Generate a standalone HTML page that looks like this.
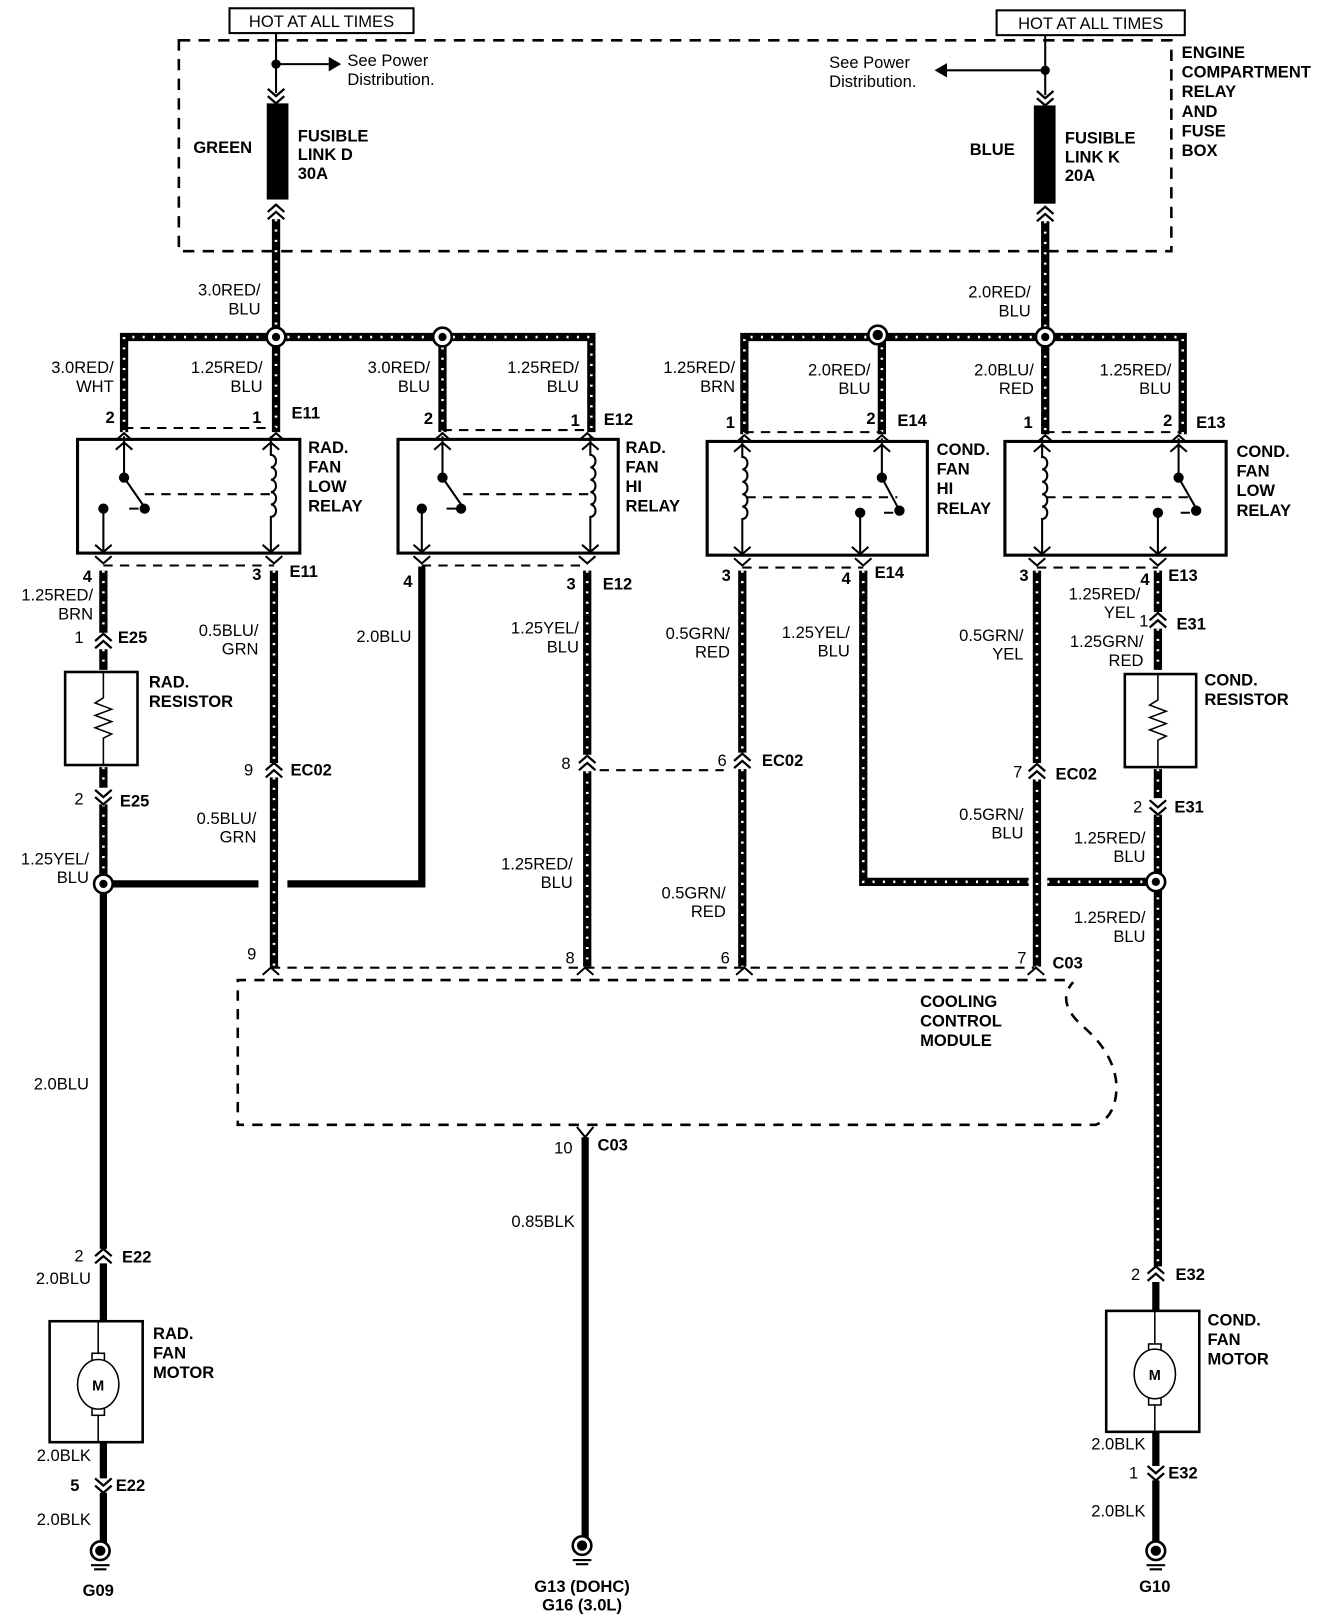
<!DOCTYPE html>
<html><head><meta charset="utf-8"><style>
html,body{margin:0;padding:0;background:#fff;}
svg{display:block;}
text{font-family:"Liberation Sans",sans-serif;font-size:16px;font-weight:bold;fill:#000;}
.n{font-weight:normal;}
</style></head><body>
<svg width="1344" height="1620" viewBox="0 0 1300 1567" preserveAspectRatio="none" xmlns="http://www.w3.org/2000/svg">
<defs>
<g id="cu"><path d="M-8 7 L0 0 L8 7 M-8 14 L0 7 L8 14" fill="none" stroke="#000" stroke-width="2.2"/></g>
<g id="cd"><path d="M-8 -7 L0 0 L8 -7 M-8 -14 L0 -7 L8 -14" fill="none" stroke="#000" stroke-width="2.2"/></g>
<g id="pu"><path d="M-8 7 L0 0 L8 7" fill="none" stroke="#000" stroke-width="2"/></g>
<g id="pd"><path d="M-8 -7 L0 0 L8 -7" fill="none" stroke="#000" stroke-width="2"/></g>
</defs>
<rect width="1300" height="1567" fill="#fff"/>

<rect x="222" y="8" width="178" height="24" fill="none" stroke="#000" stroke-width="2"/>
<text x="311" y="26" text-anchor="middle" class="n" style="font-size:16px">HOT AT ALL TIMES</text>
<rect x="964" y="10" width="182" height="24" fill="none" stroke="#000" stroke-width="2"/>
<text x="1055" y="28" text-anchor="middle" class="n" style="font-size:16px">HOT AT ALL TIMES</text>

<rect x="173" y="39" width="960" height="204" fill="none" stroke="#000" stroke-width="2.5" stroke-dasharray="11 8"/>
<text x="1143" y="56">ENGINE</text><text x="1143" y="75">COMPARTMENT</text><text x="1143" y="94">RELAY</text><text x="1143" y="113">AND</text><text x="1143" y="132">FUSE</text><text x="1143" y="151">BOX</text>

<g stroke="#000" fill="none" stroke-width="2">
<path d="M267 32 V90"/><path d="M267 62 H318"/>
<path d="M1011 34 V92"/><path d="M1011 68 H916"/>
</g>
<path d="M318 55 L330 62 L318 69Z"/><path d="M916 61 L904 68 L916 75Z"/>
<circle cx="267" cy="62" r="4.5"/><circle cx="1011" cy="68" r="4.5"/>
<use href="#cd" x="267" y="100"/><use href="#cd" x="1011" y="102"/>
<rect x="258" y="100" width="21" height="93"/>
<rect x="1000" y="102" width="21" height="95"/>
<use href="#cu" x="267" y="198"/><use href="#cu" x="1011" y="200"/>
<text x="336" y="64" class="n">See Power</text><text x="336" y="82" class="n">Distribution.</text>
<text x="802" y="66" class="n">See Power</text><text x="802" y="84" class="n">Distribution.</text>
<text x="187" y="148">GREEN</text>
<text x="288" y="137">FUSIBLE</text><text x="288" y="155">LINK D</text><text x="288" y="173">30A</text>
<text x="938" y="150">BLUE</text>
<text x="1030" y="139">FUSIBLE</text><text x="1030" y="157">LINK K</text><text x="1030" y="175">20A</text>

<g fill="none" stroke-linejoin="miter">
<g stroke="#000" stroke-width="8">
<path d="M267 212 V418"/>
<path d="M120 418 V326 H572 V418"/>
<path d="M428 326 V418"/>
<path d="M1011 214 V420"/>
<path d="M720 420 V326 H1144 V420"/>
<path d="M853 326 V420"/>
<path d="M100 552 V612 M100 628 V648 M100 742 V762 M100 778 V855"/>
<path d="M265 552 V738 M265 752 V935"/>
<path d="M568 552 V730 M568 746 V935"/>
<path d="M718 552 V728 M718 744 V935"/>
<path d="M835 552 V853 H995 M1013 853 H1118"/>
<path d="M1003 552 V738 M1003 754 V935"/>
<path d="M1120 552 V592 M1120 608 V648 M1120 744 V772 M1120 788 V1225"/>
</g>
<g stroke="#fff" stroke-width="2.5" stroke-dasharray="2 8">
<path d="M267 212 V418"/>
<path d="M120 418 V326 H572 V418"/>
<path d="M428 326 V418"/>
<path d="M1011 214 V420"/>
<path d="M720 420 V326 H1144 V420"/>
<path d="M853 326 V420"/>
<path d="M100 552 V612 M100 628 V648 M100 742 V762 M100 778 V855"/>
<path d="M265 552 V738 M265 752 V935"/>
<path d="M568 552 V730 M568 746 V935"/>
<path d="M718 552 V728 M718 744 V935"/>
<path d="M835 552 V853 H995 M1013 853 H1118"/>
<path d="M1003 552 V738 M1003 754 V935"/>
<path d="M1120 552 V592 M1120 608 V648 M1120 744 V772 M1120 788 V1225"/>
</g>
<g stroke="#000" stroke-width="7">
<path d="M408 548 V855 H278"/>
<path d="M100 855 H250"/>
<path d="M100 855 V1208 M100 1222 V1278 M100 1395 V1430 M100 1444 V1492"/>
<path d="M566 1100 V1490"/>
<path d="M1118 1240 V1268 M1118 1385 V1418 M1118 1432 V1492"/>
</g>
</g>
<g fill="#fff" stroke="#000" stroke-width="2.5">
<circle cx="267" cy="326" r="9"/><circle cx="428" cy="326" r="9"/>
<circle cx="849" cy="324" r="9"/><circle cx="1011" cy="326" r="9"/>
<circle cx="100" cy="855" r="9"/><circle cx="1118" cy="853" r="9"/>
</g>
<circle cx="267" cy="326" r="4"/><circle cx="428" cy="326" r="4"/><circle cx="849" cy="324" r="5"/><circle cx="1011" cy="326" r="4"/><circle cx="100" cy="855" r="4"/><circle cx="1118" cy="853" r="4"/>

<g text-anchor="end" class="n">
<text x="252" y="286" class="n">3.0RED/</text><text x="252" y="304" class="n">BLU</text>
<text x="997" y="288" class="n">2.0RED/</text><text x="997" y="306" class="n">BLU</text>
<text x="110" y="361" class="n">3.0RED/</text><text x="110" y="379" class="n">WHT</text>
<text x="254" y="361" class="n">1.25RED/</text><text x="254" y="379" class="n">BLU</text>
<text x="416" y="361" class="n">3.0RED/</text><text x="416" y="379" class="n">BLU</text>
<text x="560" y="361" class="n">1.25RED/</text><text x="560" y="379" class="n">BLU</text>
<text x="711" y="361" class="n">1.25RED/</text><text x="711" y="379" class="n">BRN</text>
<text x="842" y="363" class="n">2.0RED/</text><text x="842" y="381" class="n">BLU</text>
<text x="1000" y="363" class="n">2.0BLU/</text><text x="1000" y="381" class="n">RED</text>
<text x="1133" y="363" class="n">1.25RED/</text><text x="1133" y="381" class="n">BLU</text>
</g>

<g stroke="#000" stroke-width="2" fill="none" stroke-dasharray="9 7">
<path d="M120 414 H267"/><path d="M428 416 H568"/><path d="M720 418 H853"/><path d="M1011 418 H1140"/>
<path d="M100 547 H265"/><path d="M408 547 H568"/><path d="M718 549 H835"/><path d="M1003 549 H1120"/>
</g>
<g fill="none" stroke="#000" stroke-width="3">
<rect x="75" y="425" width="215" height="110"/>
<rect x="385" y="425" width="213" height="110"/>
<rect x="684" y="427" width="213" height="110"/>
<rect x="972" y="427" width="214" height="110"/>
</g>
<g fill="none" stroke="#000" stroke-width="2">
<path d="M120 422 V462 L138 488 M100 492 V535 M262 422 V440 a5 6 0 0 1 0 12 a5 6 0 0 1 0 12 a5 6 0 0 1 0 12 a5 6 0 0 1 0 12 a5 6 0 0 1 0 12 V535"/>
<path d="M140 478 H262 M125 492 H134" stroke-dasharray="9 7"/>
<path d="M428 422 V462 L446 488 M408 492 V535 M571 422 V440 a5 6 0 0 1 0 12 a5 6 0 0 1 0 12 a5 6 0 0 1 0 12 a5 6 0 0 1 0 12 a5 6 0 0 1 0 12 V535"/>
<path d="M448 478 H571 M432 492 H442" stroke-dasharray="9 7"/>
<path d="M853 424 V462 L868 490 M832 496 V537 M718 424 V442 a5 6 0 0 1 0 12 a5 6 0 0 1 0 12 a5 6 0 0 1 0 12 a5 6 0 0 1 0 12 a5 6 0 0 1 0 12 V537"/>
<path d="M722 481 H868 M855 496 H864" stroke-dasharray="9 7"/>
<path d="M1140 424 V462 L1156 490 M1120 496 V537 M1008 424 V442 a5 6 0 0 1 0 12 a5 6 0 0 1 0 12 a5 6 0 0 1 0 12 a5 6 0 0 1 0 12 a5 6 0 0 1 0 12 V537"/>
<path d="M1012 481 H1156 M1142 496 H1152" stroke-dasharray="9 7"/>
</g>
<g>
<circle cx="120" cy="462" r="5"/><circle cx="140" cy="492" r="5"/><circle cx="100" cy="492" r="5"/>
<circle cx="428" cy="462" r="5"/><circle cx="446" cy="492" r="5"/><circle cx="408" cy="492" r="5"/>
<circle cx="853" cy="462" r="5"/><circle cx="870" cy="494" r="5"/><circle cx="832" cy="496" r="5"/>
<circle cx="1140" cy="462" r="5"/><circle cx="1157" cy="494" r="5"/><circle cx="1120" cy="496" r="5"/>
</g>
<g>
<use href="#pu" x="120" y="419"/><use href="#pu" x="120" y="428"/><use href="#pu" x="267" y="419"/><use href="#pu" x="262" y="428"/>
<use href="#pd" x="100" y="545"/><use href="#pd" x="100" y="534"/><use href="#pd" x="265" y="545"/><use href="#pd" x="262" y="534"/>
<use href="#pu" x="428" y="419"/><use href="#pu" x="428" y="428"/><use href="#pu" x="568" y="419"/><use href="#pu" x="571" y="428"/>
<use href="#pd" x="408" y="545"/><use href="#pd" x="408" y="534"/><use href="#pd" x="568" y="545"/><use href="#pd" x="571" y="534"/>
<use href="#pu" x="720" y="421"/><use href="#pu" x="718" y="430"/><use href="#pu" x="853" y="421"/><use href="#pu" x="853" y="430"/>
<use href="#pd" x="718" y="547"/><use href="#pd" x="718" y="536"/><use href="#pd" x="835" y="547"/><use href="#pd" x="832" y="536"/>
<use href="#pu" x="1011" y="421"/><use href="#pu" x="1008" y="430"/><use href="#pu" x="1140" y="421"/><use href="#pu" x="1140" y="430"/>
<use href="#pd" x="1003" y="547"/><use href="#pd" x="1008" y="536"/><use href="#pd" x="1120" y="547"/><use href="#pd" x="1120" y="536"/>
</g>
<g>
<text x="102" y="409">2</text><text x="244" y="409">1</text><text x="282" y="405">E11</text>
<text x="410" y="410">2</text><text x="552" y="412">1</text><text x="584" y="411">E12</text>
<text x="702" y="414">1</text><text x="838" y="410">2</text><text x="868" y="412">E14</text>
<text x="990" y="414">1</text><text x="1125" y="412">2</text><text x="1157" y="414">E13</text>
<text x="80" y="563">4</text><text x="244" y="561">3</text><text x="280" y="558">E11</text>
<text x="390" y="568">4</text><text x="548" y="570">3</text><text x="583" y="570">E12</text>
<text x="698" y="562">3</text><text x="814" y="565">4</text><text x="846" y="559">E14</text>
<text x="986" y="562">3</text><text x="1103" y="566">4</text><text x="1130" y="562">E13</text>
</g>
<text x="298" y="438">RAD.</text><text x="298" y="457">FAN</text><text x="298" y="476">LOW</text><text x="298" y="495">RELAY</text>
<text x="605" y="438">RAD.</text><text x="605" y="457">FAN</text><text x="605" y="476">HI</text><text x="605" y="495">RELAY</text>
<text x="906" y="440">COND.</text><text x="906" y="459">FAN</text><text x="906" y="478">HI</text><text x="906" y="497">RELAY</text>
<text x="1196" y="442">COND.</text><text x="1196" y="461">FAN</text><text x="1196" y="480">LOW</text><text x="1196" y="499">RELAY</text>

<g text-anchor="end">
<text x="90" y="581" class="n">1.25RED/</text><text x="90" y="599" class="n">BRN</text>
<text x="250" y="615" class="n">0.5BLU/</text><text x="250" y="633" class="n">GRN</text>
<text x="398" y="621" class="n">2.0BLU</text>
<text x="560" y="613" class="n">1.25YEL/</text><text x="560" y="631" class="n">BLU</text>
<text x="706" y="618" class="n">0.5GRN/</text><text x="706" y="636" class="n">RED</text>
<text x="822" y="617" class="n">1.25YEL/</text><text x="822" y="635" class="n">BLU</text>
<text x="990" y="620" class="n">0.5GRN/</text><text x="990" y="638" class="n">YEL</text>
<text x="1103" y="580" class="n">1.25RED/</text><text x="1098" y="598" class="n">YEL</text>
<text x="1106" y="626" class="n">1.25GRN/</text><text x="1106" y="644" class="n">RED</text>
<text x="248" y="797" class="n">0.5BLU/</text><text x="248" y="815" class="n">GRN</text>
<text x="990" y="793" class="n">0.5GRN/</text><text x="990" y="811" class="n">BLU</text>
<text x="1108" y="816" class="n">1.25RED/</text><text x="1108" y="834" class="n">BLU</text>
<text x="86" y="836" class="n">1.25YEL/</text><text x="86" y="854" class="n">BLU</text>
<text x="554" y="841" class="n">1.25RED/</text><text x="554" y="859" class="n">BLU</text>
<text x="702" y="869" class="n">0.5GRN/</text><text x="702" y="887" class="n">RED</text>
<text x="1108" y="893" class="n">1.25RED/</text><text x="1108" y="911" class="n">BLU</text>
<text x="86" y="1054" class="n">2.0BLU</text>
<text x="556" y="1187" class="n">0.85BLK</text>
<text x="88" y="1242" class="n">2.0BLU</text>
<text x="88" y="1413" class="n">2.0BLK</text>
<text x="88" y="1475" class="n">2.0BLK</text>
<text x="1108" y="1402" class="n">2.0BLK</text>
<text x="1108" y="1467" class="n">2.0BLK</text>
</g>

<use href="#cu" x="100" y="613"/><text x="72" y="622" class="n">1</text><text x="114" y="622">E25</text>
<use href="#cd" x="100" y="778"/><text x="72" y="778" class="n">2</text><text x="116" y="780">E25</text>
<use href="#cu" x="265" y="738"/><text x="236" y="750" class="n">9</text><text x="281" y="750">EC02</text>
<use href="#cu" x="568" y="731"/><text x="543" y="744" class="n">8</text>
<use href="#cu" x="718" y="729"/><text x="694" y="741" class="n">6</text><text x="737" y="741">EC02</text>
<use href="#cu" x="1003" y="739"/><text x="980" y="752" class="n">7</text><text x="1021" y="754">EC02</text>
<path d="M580 745 H700" stroke="#000" stroke-width="2" stroke-dasharray="9 7"/>
<use href="#cu" x="1120" y="593"/><text x="1102" y="606" class="n">1</text><text x="1138" y="609">E31</text>
<use href="#cd" x="1120" y="788"/><text x="1096" y="786" class="n">2</text><text x="1136" y="786">E31</text>
<use href="#cu" x="100" y="1208"/><text x="72" y="1220" class="n">2</text><text x="118" y="1221">E22</text>
<use href="#cd" x="100" y="1444"/><text x="68" y="1442">5</text><text x="112" y="1442">E22</text>
<use href="#cu" x="1118" y="1225"/><text x="1094" y="1238" class="n">2</text><text x="1137" y="1238">E32</text>
<use href="#cd" x="1118" y="1432"/><text x="1092" y="1430" class="n">1</text><text x="1130" y="1430">E32</text>

<g fill="none" stroke="#000" stroke-width="2.5">
<rect x="63" y="650" width="70" height="90"/>
<rect x="1088" y="652" width="69" height="90"/>
</g>
<g fill="none" stroke="#000" stroke-width="1.5">
<path d="M100 650 V675 L92 680 L108 686 L92 692 L108 698 L92 704 L108 710 L100 714 V740"/>
<path d="M1120 652 V677 L1112 682 L1128 688 L1112 694 L1128 700 L1112 706 L1128 712 L1120 716 V742"/>
</g>
<text x="144" y="665">RAD.</text><text x="144" y="684">RESISTOR</text>
<text x="1165" y="663">COND.</text><text x="1165" y="682">RESISTOR</text>

<path d="M262 936 H1000" stroke="#000" stroke-width="2" stroke-dasharray="9 7"/>
<path d="M1030 948 H230 V1088 H1060 Q1080 1080 1080 1050 Q1078 1020 1050 995 Q1020 970 1038 950" fill="none" stroke="#000" stroke-width="2.5" stroke-dasharray="10 8"/>
<use href="#pu" x="262" y="936"/><use href="#pu" x="566" y="936"/><use href="#pu" x="720" y="936"/><use href="#pu" x="1002" y="936"/>
<text x="239" y="928" class="n">9</text><text x="547" y="932" class="n">8</text><text x="697" y="932" class="n">6</text><text x="984" y="932" class="n">7</text><text x="1018" y="937">C03</text>
<text x="890" y="974">COOLING</text><text x="890" y="993">CONTROL</text><text x="890" y="1012">MODULE</text>
<path d="M558 1090 L566 1100 L574 1090" fill="none" stroke="#000" stroke-width="2"/>
<text x="536" y="1116" class="n">10</text><text x="578" y="1113">C03</text>

<g fill="none" stroke="#000" stroke-width="2.5">
<rect x="48" y="1278" width="90" height="117"/>
<rect x="1070" y="1268" width="90" height="117"/>
</g>
<g stroke="#000" stroke-width="1.5" fill="#fff">
<path d="M95 1278 V1395 M1117 1268 V1385"/>
<rect x="89" y="1309" width="12" height="8"/><rect x="89" y="1361" width="12" height="8"/>
<rect x="1111" y="1300" width="12" height="8"/><rect x="1111" y="1351" width="12" height="8"/>
<ellipse cx="95" cy="1339" rx="20" ry="24"/>
<ellipse cx="1117" cy="1329" rx="20" ry="24"/>
</g>
<text x="95" y="1345" text-anchor="middle" style="font-size:14px">M</text>
<text x="1117" y="1335" text-anchor="middle" style="font-size:14px">M</text>
<text x="148" y="1295">RAD.</text><text x="148" y="1314">FAN</text><text x="148" y="1333">MOTOR</text>
<text x="1168" y="1282">COND.</text><text x="1168" y="1301">FAN</text><text x="1168" y="1320">MOTOR</text>

<g stroke="#000" stroke-width="2.5" fill="#fff">
<circle cx="97" cy="1500" r="9"/><circle cx="563" cy="1495" r="9"/><circle cx="1118" cy="1500" r="9"/>
</g>
<circle cx="97" cy="1500" r="5"/><circle cx="563" cy="1495" r="5"/><circle cx="1118" cy="1500" r="5"/>
<g stroke="#000" stroke-width="2">
<path d="M88 1514 H106 M91 1518 H103"/><path d="M554 1509 H572 M557 1513 H569"/><path d="M1109 1514 H1127 M1112 1518 H1124"/>
</g>
<text x="95" y="1544" text-anchor="middle">G09</text>
<text x="563" y="1540" text-anchor="middle">G13 (DOHC)</text><text x="563" y="1558" text-anchor="middle">G16 (3.0L)</text>
<text x="1117" y="1540" text-anchor="middle">G10</text>
</svg>
</body></html>
